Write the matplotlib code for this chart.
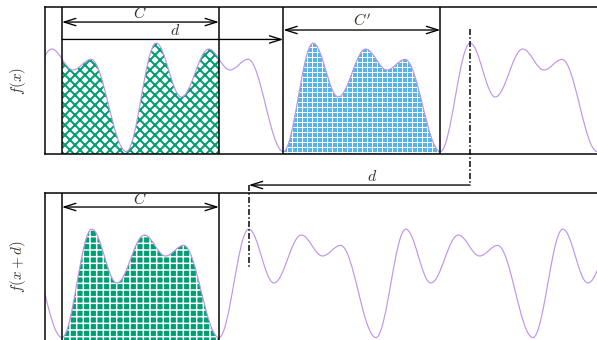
import numpy as np
import matplotlib
matplotlib.use('Agg')
import matplotlib.pyplot as plt
from matplotlib.path import Path
from matplotlib.patches import PathPatch, Rectangle

# one period of the curve: extrema positions (fraction of
# a period, starting at the deep minimum) and heights (fraction of panel height)
PHASE = [0.0, 0.19, 0.35, 0.525, 0.66, 0.775, 1.0]
LEVEL = [0.02, 0.755, 0.39, 0.715, 0.573, 0.645, 0.02]

PERIOD = 1.0
SHIFT_D = 1.41                          # the shift d, in periods
WINDOW_C = (0.0, 1.0)                   # window C
WINDOW_C2 = (SHIFT_D, SHIFT_D + 1.0)    # window C'
X_RANGE = (-0.108, 3.408)
PANEL_LABELS = ['$f(x)$', '$f(x+d)$']

GREEN = '#009e73'
BLUE = '#56b4e9'
PURPLE = '#bf94ea'
TEXT = '#3a3028'

plt.rcParams['mathtext.fontset'] = 'cm'

DPI = 120
fig = plt.figure(figsize=(597 / DPI, 340 / DPI), dpi=DPI)
ax_top = fig.add_axes([45 / 597, 1 - 154.5 / 340, 552 / 597, 147.5 / 340])
ax_bot = fig.add_axes([45 / 597, 1 - 340.5 / 340, 552 / 597, 147.5 / 340])


def curve_path(offset, closed=False):
    """Smooth curve through the extrema, repeated every period."""
    x0, x1 = X_RANGE
    k0 = int(np.floor((x0 - offset) / PERIOD)) - 1
    k1 = int(np.ceil((x1 - offset) / PERIOD)) + 1
    pts = []
    for k in range(k0, k1):
        for ph, lv in zip(PHASE[:-1], LEVEL[:-1]):
            pts.append((offset + (k + ph) * PERIOD, lv))
    pts.append((offset + k1 * PERIOD, LEVEL[0]))

    verts = [pts[0]]
    codes = [Path.MOVETO]
    for (xa, ya), (xb, yb) in zip(pts[:-1], pts[1:]):
        dx = xb - xa
        verts += [(xa + 0.36 * dx, ya), (xb - 0.36 * dx, yb), (xb, yb)]
        codes += [Path.CURVE4] * 3
    if closed:
        verts = [(pts[0][0], 0)] + verts + [(pts[-1][0], 0), (pts[0][0], 0)]
        codes = [Path.MOVETO, Path.LINETO] + codes[1:] + [Path.LINETO, Path.CLOSEPOLY]
    return Path(verts, codes)


def hatched_window(ax, offset, window, face, hatch_col, hatch, hlw):
    with plt.rc_context({'hatch.linewidth': hlw}):
        patch = PathPatch(curve_path(offset, closed=True), facecolor=face,
                          edgecolor=hatch_col, hatch=hatch, lw=0, zorder=1)
        if hasattr(patch, 'set_hatch_linewidth'):
            patch.set_hatch_linewidth(hlw)
        ax.add_patch(patch)
    clip = Rectangle((window[0], 0), window[1] - window[0], 1, transform=ax.transData)
    patch.set_clip_path(clip)


def arrow(ax, xa, xb, y, style):
    ax.annotate('', xy=(xb, y), xytext=(xa, y), xycoords='data',
                arrowprops=dict(arrowstyle=style + ',head_length=0.7,head_width=0.22',
                                color='black', lw=0.8, shrinkA=0, shrinkB=0),
                annotation_clip=False)


for ax, label in zip([ax_top, ax_bot], PANEL_LABELS):
    ax.set_xlim(*X_RANGE)
    ax.set_ylim(0, 1)
    ax.set_xticks([])
    ax.set_yticks([])
    ax.spines['right'].set_visible(False)
    for s in ['left', 'top', 'bottom']:
        ax.spines[s].set_linewidth(0.9)
    ax.set_ylabel(label, fontsize=9, color=TEXT)
    ax.yaxis.set_label_coords(-0.03, 0.5)

# top panel: f(x)
hatched_window(ax_top, SHIFT_D, WINDOW_C, 'white', GREEN, 'xxxx', 1.2)
hatched_window(ax_top, SHIFT_D, WINDOW_C2, BLUE, 'white', '++++', 0.6)
ax_top.add_patch(PathPatch(curve_path(SHIFT_D), fill=False, edgecolor=PURPLE,
                           lw=0.7, zorder=2))
for x in [WINDOW_C[0], WINDOW_C[1], WINDOW_C2[0], WINDOW_C2[1]]:
    ax_top.axvline(x, color='black', lw=0.9, zorder=3)

arrow(ax_top, WINDOW_C[0], WINDOW_C[1], 0.898, '<->')
ax_top.text(np.mean(WINDOW_C), 0.962, '$C$', ha='center', va='center', fontsize=9.5, color=TEXT)
arrow(ax_top, WINDOW_C[0], SHIFT_D, 0.78, '->')
ax_top.text(0.72, 0.84, '$d$', ha='center', va='center', fontsize=9.5, color=TEXT)
arrow(ax_top, WINDOW_C2[0], WINDOW_C2[1], 0.844, '<->')
ax_top.text(np.mean(WINDOW_C2), 0.91, "$C'$", ha='center', va='center', fontsize=9.5, color=TEXT)

# peak used to mark the shift
peak = PHASE[1] * PERIOD
ax_top.plot([SHIFT_D + PERIOD + peak] * 2, [0.851, -0.207], color='black', lw=0.9,
            dashes=(4, 1.5, 1, 1.5), clip_on=False, zorder=3)

# bottom panel: f(x + d)
hatched_window(ax_bot, 0.0, WINDOW_C, GREEN, 'white', '+++', 0.9)
ax_bot.add_patch(PathPatch(curve_path(0.0), fill=False, edgecolor=PURPLE,
                           lw=0.7, zorder=2))
for x in WINDOW_C:
    ax_bot.axvline(x, color='black', lw=0.9, zorder=3)

arrow(ax_bot, WINDOW_C[0], WINDOW_C[1], 0.905, '<->')
ax_bot.text(np.mean(WINDOW_C), 0.962, '$C$', ha='center', va='center', fontsize=9.5, color=TEXT)
arrow(ax_bot, SHIFT_D + PERIOD + peak, PERIOD + peak, 1.054, '->')
ax_bot.text(1.975, 1.11, '$d$', ha='center', va='center', fontsize=9.5, color=TEXT)
ax_bot.plot([PERIOD + peak] * 2, [1.054, 0.49], color='black', lw=0.9,
            dashes=(4, 1.5, 1, 1.5), clip_on=False, zorder=3)

fig.savefig('out.png', dpi=DPI)
